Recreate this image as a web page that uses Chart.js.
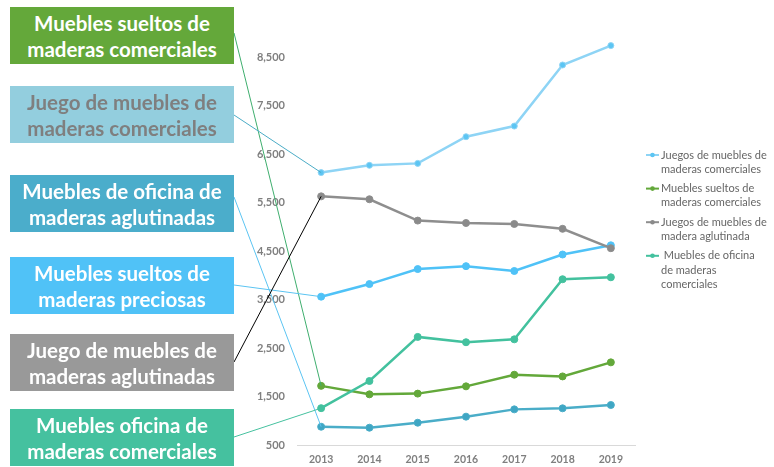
<!DOCTYPE html>
<html>
<head>
<meta charset="utf-8">
<script src="https://cdn.jsdelivr.net/npm/chart.js@4/dist/chart.umd.min.js"></script>
<style>
  html, body { margin:0; padding:0; background:#fff; }
  #wrap { position:relative; width:774px; height:467px; overflow:hidden; }
  #c { position:absolute; left:0; top:0; }
  .box { position:absolute; left:10px; width:224px; height:57px; display:flex; align-items:center; justify-content:center;
         text-align:center; font-family:Lato, "Open Sans", sans-serif; font-weight:700; font-size:20.5px; line-height:26px; color:#fff; }
</style>
</head>
<body>
<div id="wrap">
  <canvas id="c" width="774" height="467"></canvas>
</div>
<script>
// ---- data ----
const years = ['2013','2014','2015','2016','2017','2018','2019'];
const juegosComerciales   = [6120, 6270, 6310, 6860, 7080, 8340, 8740];
const juegosAglutinada    = [5630, 5570, 5130, 5080, 5060, 4960, 4560];
const sueltosPreciosas    = [3560, 3820, 4130, 4190, 4090, 4430, 4620];
const oficinaComerciales  = [1260, 1820, 2730, 2620, 2680, 3920, 3960];
const sueltosComerciales  = [1720, 1545, 1560, 1710, 1950, 1915, 2205];
const oficinaAglutinadas  = [877, 857, 960, 1085, 1235, 1257, 1325];
const yTickValues = [500, 1500, 2500, 3500, 4500, 5500, 6500, 7500, 8500];

const seriesNames = [
  'Juegos de muebles de maderas comerciales',
  'Juegos de muebles de madera aglutinada',
  'Muebles sueltos de maderas preciosas',
  'Muebles de oficina de maderas comerciales',
  'Muebles sueltos de maderas comerciales',
  'Muebles de oficina de maderas aglutinadas'
];
const legendLabels = [
  ['Juegos de muebles de', 'maderas comerciales'],
  ['Muebles sueltos de', 'maderas comerciales'],
  ['Juegos de muebles de', 'madera aglutinada'],
  [' Muebles de oficina', 'de maderas', 'comerciales']
];
const boxLabels = [
  ['Muebles sueltos de', 'maderas comerciales'],
  ['Juego de muebles de', 'maderas comerciales'],
  ['Muebles de oficina de', 'maderas aglutinadas'],
  ['Muebles sueltos de', 'maderas preciosas'],
  ['Juego de muebles de', 'maderas aglutinadas'],
  ['Muebles oficina de', 'maderas comerciales']
];

// ---- styling / layout ----
const colors = ['#8ED4F5', '#8E8E8E', '#4FC2F7', '#43C19E', '#63A83A', '#4AADC8'];
const pointColors = ['#5CC5F3', '#8A8A8A', '#4FC2F7', '#43C19E', '#63A83A', '#3FA6C4'];
const pointRadii = [3, 3.5, 3.5, 3.5, 3.5, 3.5];
const boxStyles = [
  {top:7,   bg:'#64A83A', color:'#ffffff', target:4, lineY:33,  line:'#3FAE6E'},
  {top:86,  bg:'#93CEDE', color:'#7F7F7F', target:0, lineY:115, line:'#4BACC6'},
  {top:175, bg:'#4BADCB', color:'#ffffff', target:5, lineY:197, line:'#5BC4F2'},
  {top:257, bg:'#50C2F7', color:'#ffffff', target:2, lineY:285, line:'#5BC4F2'},
  {top:334, bg:'#999999', color:'#ffffff', target:1, lineY:362, line:'#000000'},
  {top:409, bg:'#45C19F', color:'#ffffff', target:3, lineY:437, line:'#45C19F'}
];
const legendMap = [0, 4, 1, 3];

const wrap = document.getElementById('wrap');
boxStyles.forEach((b, i) => {
  const d = document.createElement('div');
  d.className = 'box';
  d.style.top = b.top + 'px';
  d.style.background = b.bg;
  d.style.color = b.color;
  d.innerHTML = boxLabels[i].join('<br>');
  wrap.appendChild(d);
});

const seriesData = [juegosComerciales, juegosAglutinada, sueltosPreciosas, oficinaComerciales, sueltosComerciales, oficinaAglutinadas];

const datasets = seriesData.map((d, i) => ({
  label: seriesNames[i],
  data: d,
  borderColor: colors[i],
  backgroundColor: pointColors[i],
  pointBackgroundColor: pointColors[i],
  pointBorderColor: colors[i],
  borderWidth: 2.5,
  pointRadius: pointRadii[i],
  pointBorderWidth: 1,
  tension: 0,
  fill: false
}));

const connectors = {
  id: 'connectors',
  afterDatasetsDraw(chart) {
    const ctx = chart.ctx;
    ctx.save();
    ctx.lineWidth = 1;
    boxStyles.forEach(b => {
      const meta = chart.getDatasetMeta(b.target);
      const p = meta.data[0];
      ctx.strokeStyle = b.line;
      ctx.beginPath();
      ctx.moveTo(234, b.lineY);
      ctx.lineTo(p.x, p.y);
      ctx.stroke();
    });
    ctx.restore();
  }
};

const customLegend = {
  id: 'customLegend',
  afterDraw(chart) {
    const ctx = chart.ctx;
    ctx.save();
    ctx.font = '11px Lato, "Open Sans", sans-serif';
    ctx.textBaseline = 'middle';
    ctx.textAlign = 'left';
    let y = 155;
    const lh = 14.3;
    legendMap.forEach((si, k) => {
      ctx.strokeStyle = colors[si];
      ctx.lineWidth = 2;
      ctx.beginPath();
      ctx.moveTo(646, y);
      ctx.lineTo(659, y);
      ctx.stroke();
      ctx.fillStyle = pointColors[si];
      ctx.beginPath();
      ctx.arc(652.5, y, 2.3, 0, Math.PI * 2);
      ctx.fill();
      ctx.fillStyle = '#666666';
      legendLabels[k].forEach((t, j) => {
        ctx.fillText(t, 661, y + j * lh);
      });
      y += legendLabels[k].length * lh + 5;
    });
    ctx.restore();
  }
};

new Chart(document.getElementById('c'), {
  type: 'line',
  data: { labels: years, datasets },
  options: {
    responsive: false,
    maintainAspectRatio: false,
    devicePixelRatio: 1,
    animation: false,
    layout: { padding: { left: 240, right: 139, top: 33, bottom: 0 } },
    plugins: { legend: { display: false }, tooltip: { enabled: false } },
    scales: {
      x: {
        offset: true,
        grid: { display: false, drawTicks: false },
        border: { display: true, color: '#D9D9D9', width: 1 },
        ticks: { color: '#7F7F7F', font: { family: 'Lato', weight: 'bold', size: 10.5 }, padding: 8, maxRotation: 0 },
        afterFit(s) { s.height = 22; }
      },
      y: {
        min: 500,
        max: 9000,
        grid: { display: false, drawTicks: false },
        border: { display: false },
        afterBuildTicks(s) { s.ticks = yTickValues.map(v => ({ value: v })); },
        ticks: {
          color: '#7F7F7F',
          font: { family: 'Lato', weight: 'bold', size: 11 },
          padding: 12,
          callback: v => v.toLocaleString('en-US')
        },
        afterFit(s) { s.width = 57; }
      }
    }
  },
  plugins: [connectors, customLegend]
});
</script>
</body>
</html>
